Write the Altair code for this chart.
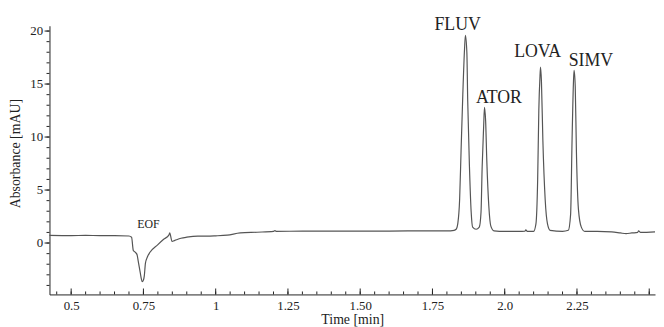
import altair as alt
import pandas as pd

# ---- chromatogram trace (time [min], absorbance [mAU]) ----
trace_time = [
    0.425, 0.50, 0.55, 0.60, 0.65, 0.700,
    0.709, 0.715, 0.723, 0.728, 0.732, 0.739, 0.743, 0.746, 0.750, 0.753, 0.757,
    0.764, 0.772, 0.800, 0.820, 0.838, 0.841, 0.849, 0.859, 0.880, 0.900, 0.938,
    0.970, 1.000, 1.040, 1.085, 1.143, 1.200, 1.205, 1.210, 1.300, 1.400, 1.500,
    1.600, 1.700, 1.800, 1.825,
    1.832, 1.838, 1.844, 1.849, 1.855, 1.861, 1.864, 1.869, 1.872, 1.878, 1.884,
    1.889, 1.901,
    1.912, 1.918, 1.922, 1.927, 1.930, 1.934, 1.938, 1.945, 1.952, 1.963,
    2.000, 2.050, 2.070, 2.073, 2.078, 2.100,
    2.108, 2.114, 2.118, 2.122, 2.124, 2.127, 2.132, 2.140, 2.148, 2.157,
    2.200, 2.220, 2.228, 2.233, 2.238, 2.240, 2.244, 2.248, 2.255, 2.265, 2.277,
    2.320, 2.370, 2.400, 2.420, 2.440, 2.460, 2.463, 2.470, 2.520,
]
trace_abs = [
    0.72, 0.70, 0.72, 0.70, 0.70, 0.66,
    0.55, -0.70, -0.90, -1.10, -1.70, -2.80, -3.40, -3.65, -3.50, -3.10, -1.90,
    -1.30, -0.90, -0.15, 0.35, 0.75, 0.95, 0.15, 0.25, 0.45, 0.55, 0.65,
    0.65, 0.68, 0.75, 0.95, 1.02, 1.10, 1.18, 1.10, 1.12, 1.12, 1.13,
    1.13, 1.15, 1.15, 1.20,
    1.30, 1.90, 4.10, 8.70, 14.0, 18.3, 19.6, 18.0, 13.4, 7.20, 2.90,
    1.50, 1.30,
    1.50, 2.90, 7.20, 10.9, 12.8, 11.5, 7.80, 3.50, 1.60, 1.15,
    1.10, 1.10, 1.12, 1.25, 1.10, 1.10,
    1.80, 6.00, 12.5, 15.7, 16.6, 15.3, 9.70, 4.10, 1.80, 1.20,
    1.10, 1.20, 2.70, 9.70, 15.3, 16.3, 14.8, 8.70, 3.20, 1.50, 1.10,
    1.10, 1.05, 0.95, 0.88, 0.95, 1.00, 1.15, 1.00, 1.05,
]

# ---- peak annotations ----
peak_names = ["EOF", "FLUV", "ATOR", "LOVA", "SIMV"]
peak_label_time = [0.767, 1.837, 1.980, 2.114, 2.298]
peak_label_abs = [1.77, 20.56, 13.67, 18.05, 17.2]
peak_label_size = [12, 18, 18, 18, 18]

# ---- axes ----
x_tick_values = [0.5, 0.75, 1.0, 1.25, 1.5, 1.75, 2.0, 2.25]
x_tick_labels = ["0.5", "0.75", "1", "1.25", "1.50", "1.75", "2.0", "2.25"]
x_major_marks = x_tick_values + [2.5]
x_minor_marks = [round(0.45 + 0.05 * i, 2) for i in range(42)]
y_tick_values = [0, 5, 10, 15, 20]
y_minor_marks = list(range(-4, 21))

x_domain = [0.425, 2.52]
y_domain = [-4.85, 20.5]

W, H = 613, 272
SERIF = "Liberation Serif"
INK = "#222222"

trace = pd.DataFrame({"t": trace_time, "a": trace_abs})
labels = pd.DataFrame({"t": peak_label_time, "a": peak_label_abs,
                       "name": peak_names, "size": peak_label_size})

label_expr = " : ".join(
    f"abs(datum.value - {v}) < 1e-6 ? '{lab}'" for v, lab in zip(x_tick_values, x_tick_labels)
) + " : ''"

xscale = alt.Scale(domain=x_domain, nice=False, zero=False)
yscale = alt.Scale(domain=y_domain, nice=False, zero=False)

x_axis = alt.Axis(
    values=x_tick_values, labelExpr=label_expr, ticks=False, grid=False,
    domainColor=INK, domainWidth=1, labelFont=SERIF, labelFontSize=13,
    labelColor=INK, labelPadding=5, labelFlush=False,
    title="Time [min]", titleFont=SERIF, titleFontSize=14,
    titleFontWeight="normal", titleColor=INK, titlePadding=0,
)
y_axis = alt.Axis(
    values=y_tick_values, ticks=False, grid=False,
    domainColor=INK, domainWidth=1, labelFont=SERIF, labelFontSize=13,
    labelColor=INK, labelPadding=7, labelFlush=False,
    title="Absorbance [mAU]", titleFont=SERIF, titleFontSize=14,
    titleFontWeight="normal", titleColor=INK, titlePadding=7, titleY=129,
)

line = alt.Chart(trace).mark_line(
    color="#555555", strokeWidth=1.2, interpolate="monotone"
).encode(
    x=alt.X("t:Q", scale=xscale, axis=x_axis),
    y=alt.Y("a:Q", scale=yscale, axis=y_axis),
)

text = alt.Chart(labels).mark_text(font=SERIF, color=INK).encode(
    x=alt.X("t:Q", scale=xscale),
    y=alt.Y("a:Q", scale=yscale),
    text="name:N",
    size=alt.Size("size:Q", scale=None, legend=None),
)

xmaj = alt.Chart(pd.DataFrame({"t": x_major_marks})).mark_rule(
    color=INK, strokeWidth=1
).encode(x=alt.X("t:Q", scale=xscale), y=alt.value(H), y2=alt.value(H - 6))

xmin = alt.Chart(pd.DataFrame({"t": x_minor_marks})).mark_rule(
    color=INK, strokeWidth=1
).encode(x=alt.X("t:Q", scale=xscale), y=alt.value(H), y2=alt.value(H - 3))

ymaj = alt.Chart(pd.DataFrame({"a": y_tick_values})).mark_rule(
    color=INK, strokeWidth=1
).encode(y=alt.Y("a:Q", scale=yscale), x=alt.value(-5), x2=alt.value(0))

ymin = alt.Chart(pd.DataFrame({"a": y_minor_marks})).mark_rule(
    color=INK, strokeWidth=1
).encode(y=alt.Y("a:Q", scale=yscale), x=alt.value(-3), x2=alt.value(0))

chart = alt.layer(line, xmin, xmaj, ymin, ymaj, text).properties(
    width=W, height=H,
    autosize=alt.AutoSizeParams(type="none"),
    padding={"left": 42, "top": 16, "right": 1, "bottom": 31},
    background="white",
).configure_view(stroke=None)

chart.save("out.html", embed_options={"renderer": "svg", "actions": False})
